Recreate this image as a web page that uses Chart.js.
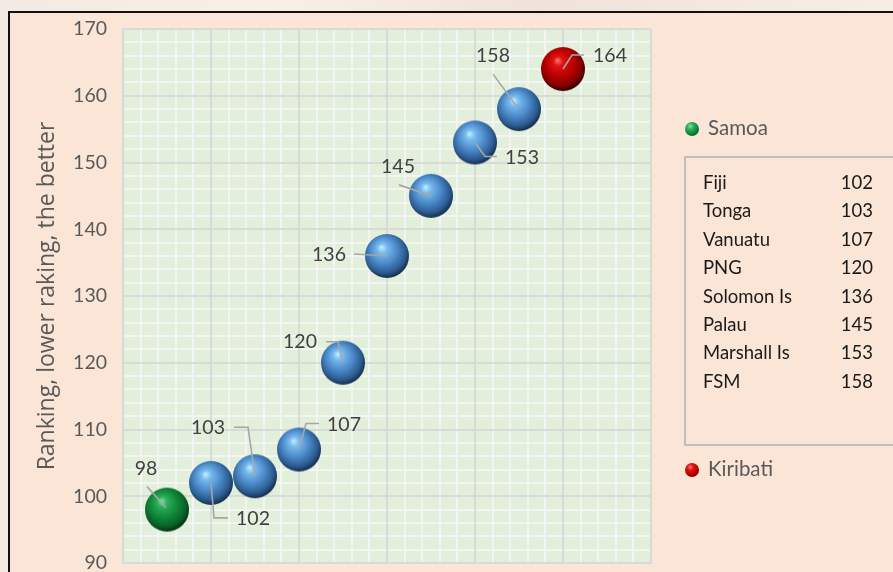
<!DOCTYPE html>
<html>
<head>
<meta charset="utf-8">
<script src="https://cdn.jsdelivr.net/npm/chart.js@4.4.1/dist/chart.umd.min.js"></script>
<style>
	html, body {
		margin: 0;
		width: 893px;
		height: 572px;
		overflow: hidden;
		background: linear-gradient(90deg, #f3ebe3, #f8f0e6 30%, #efe3dc 60%, #f6eee5);
		font-family: Lato, "Noto Sans", sans-serif;
	}
	#frame {
		position: absolute;
		left: 8px;
		top: 11px;
		width: 900px;
		height: 600px;
		border-top: 2px solid #111;
		border-left: 2px solid #111;
		background: #fbe5d7;
	}
	#chartBox {
		position: absolute;
		left: 0;
		top: 0;
		width: 893px;
		height: 620px;
	}
	.legend-item {
		position: absolute;
		left: 685px;
		font-size: 20.5px;
		color: #595959;
		line-height: 24px;
		height: 24px;
	}
	.legend-item .ball {
		display: inline-block;
		width: 14px;
		height: 14px;
		border-radius: 50%;
		vertical-align: -1px;
		margin-right: 9px;
	}
	#table {
		position: absolute;
		left: 684px;
		top: 156px;
		width: 230px;
		height: 286px;
		border: 2px solid #bfbfbf;
	}
	.row {
		position: absolute;
		left: 17px;
		width: 170px;
		font-size: 18.5px;
		color: #1a1a1a;
		line-height: 22px;
	}
	.row span:last-child {
		position: absolute;
		right: 0;
	}
</style>
</head>
<body>
<div id="frame"></div>
<div id="chartBox"><canvas id="rankChart"></canvas></div>
<div id="legend"></div>

<script>
// countries in ranking order and their ranking
const countries = ["Samoa", "Fiji", "Tonga", "Vanuatu", "PNG", "Solomon Is", "Palau", "Marshall Is", "FSM", "Kiribati"];
const rankings = [98, 102, 103, 107, 120, 136, 145, 153, 158, 164];
const yTicks = [90, 100, 110, 120, 130, 140, 150, 160, 170];

// label placement (pixel offsets from the bubble centre) and leader lines
const labelOffsets = [[-21, -41], [42, 36], [-47, -49], [45, -25], [-43, -21], [-58, -1], [-33, -29], [47, 15], [-26, -53], [47, -13]];
const leaders = [
	[[-20, -23], [-1, -2]],
	[[0, 0], [3, 35], [17, 35]],
	[[0, 0], [-7, -49], [-21, -49]],
	[[0, 0], [7, -26], [20, -26]],
	[[-17, -21], [-5, -21], [0, 0]],
	[[-33, -2], [0, 0]],
	[[-32, -11], [0, 0]],
	[[0, 0], [10, 14], [22, 14]],
	[[-26, -35], [-1, -1]],
	[[0, 0], [9, -14], [21, -14]],
];

const blueShades = ["#c2f0ff", "#78baee", "#4b89c9", "#2c5b8f", "#183253"];
const greenShades = ["#86e6a6", "#2cb05c", "#10893b", "#0a6229", "#053716"];
const redShades = ["#ff7575", "#e01212", "#bb0000", "#820000", "#3a0000"];

function makeBall(r, shades) {
	const c = document.createElement("canvas");
	c.width = c.height = r * 2 + 2;
	const g = c.getContext("2d");
	const cx = r + 1, cy = r + 1;
	const grad = g.createRadialGradient(cx - r * 0.25, cy - r * 0.4, 0, cx - r * 0.08, cy - r * 0.15, r * 1.12);
	grad.addColorStop(0, shades[0]);
	grad.addColorStop(0.2, shades[1]);
	grad.addColorStop(0.55, shades[2]);
	grad.addColorStop(0.85, shades[3]);
	grad.addColorStop(1, shades[4]);
	g.fillStyle = grad;
	g.beginPath();
	g.arc(cx, cy, r, 0, Math.PI * 2);
	g.fill();
	return c;
}

const isMajorX = (v) => Math.abs(v / 2 - Math.round(v / 2)) < 1e-6;
const isMajorY = (v) => Math.abs(v / 10 - Math.round(v / 10)) < 1e-6;

const points = rankings.map((rank, i) => ({ x: i + 1, y: rank }));
const last = countries.length - 1;

// plot fill and the light minor grid, drawn under the library's major grid
const plotBackground = {
	id: "plotBackground",
	beforeDraw(chart) {
		const { ctx, chartArea: a, scales } = chart;
		ctx.save();
		ctx.fillStyle = "#e2efda";
		ctx.fillRect(a.left, a.top, a.right - a.left, a.bottom - a.top);
		ctx.strokeStyle = "#f4f4f4";
		ctx.lineWidth = 2;
		ctx.beginPath();
		scales.x.ticks.forEach((t) => {
			if (isMajorX(t.value)) return;
			const x = Math.round(scales.x.getPixelForValue(t.value));
			ctx.moveTo(x, a.top);
			ctx.lineTo(x, a.bottom);
		});
		scales.y.ticks.forEach((t) => {
			if (isMajorY(t.value)) return;
			const y = Math.round(scales.y.getPixelForValue(t.value));
			ctx.moveTo(a.left, y);
			ctx.lineTo(a.right, y);
		});
		ctx.stroke();
		ctx.restore();
	},
};

const pointLabels = {
	id: "pointLabels",
	afterDatasetsDraw(chart) {
		const { ctx, scales } = chart;
		ctx.save();
		ctx.strokeStyle = "#a6a6a6";
		ctx.lineWidth = 1.6;
		ctx.fillStyle = "#404040";
		ctx.font = "19.5px Lato";
		ctx.textAlign = "center";
		ctx.textBaseline = "middle";
		points.forEach((p, i) => {
			const px = scales.x.getPixelForValue(p.x);
			const py = scales.y.getPixelForValue(p.y);
			ctx.beginPath();
			leaders[i].forEach(([dx, dy], k) => {
				if (k === 0) ctx.moveTo(px + dx, py + dy);
				else ctx.lineTo(px + dx, py + dy);
			});
			ctx.stroke();
			ctx.fillText(String(rankings[i]), px + labelOffsets[i][0], py + labelOffsets[i][1]);
		});
		ctx.restore();
	},
};

const ctx = document.getElementById("rankChart").getContext("2d");
const rankChart = new Chart(ctx, {
	type: "scatter",
	data: {
		datasets: [
			{
				label: countries[0],
				data: points.slice(0, 1),
				pointStyle: makeBall(22, greenShades),
			},
			{
				label: "Others",
				data: points.slice(1, last),
				pointStyle: makeBall(22, blueShades),
			},
			{
				label: countries[last],
				data: points.slice(last),
				pointStyle: makeBall(22, redShades),
			},
		],
	},
	options: {
		responsive: true,
		maintainAspectRatio: false,
		animation: false,
		layout: { padding: { left: 0, top: 29, right: 242, bottom: 57 } },
		elements: { point: { radius: 22, hoverRadius: 22 } },
		plugins: {
			legend: { display: false },
			tooltip: { enabled: false },
		},
		scales: {
			x: {
				min: 0,
				max: 12,
				ticks: { stepSize: 0.4, display: false, autoSkip: false },
				grid: {
					drawTicks: false,
					lineWidth: 2,
					color: (c) => (isMajorX(c.tick.value) ? "#d9d9d9" : "rgba(0,0,0,0)"),
				},
				border: { display: true, color: "#d9d9d9", width: 2 },
			},
			y: {
				min: 90,
				max: 170,
				afterFit(scale) {
					scale.width = 123;
				},
				ticks: {
					stepSize: 2,
					autoSkip: false,
					padding: 16,
					color: "#595959",
					font: { family: "Lato", size: 19.5 },
					callback: (v) => (yTicks.includes(v) ? v : ""),
				},
				grid: {
					drawTicks: false,
					lineWidth: 2,
					color: (c) => (isMajorY(c.tick.value) ? "#d9d9d9" : "rgba(0,0,0,0)"),
				},
				border: { display: true, color: "#d9d9d9", width: 2 },
				title: {
					display: true,
					text: "Ranking, lower raking, the better",
					color: "#595959",
					font: { family: "Open Sans", size: 23 },
					padding: { top: 34 },
				},
			},
		},
	},
	plugins: [plotBackground, pointLabels],
});

// legend and the side table
const legend = document.getElementById("legend");
function ballCss(shades) {
	return "background: radial-gradient(circle at 38% 30%, " + shades[0] + " 0%, " + shades[1] + " 25%, " + shades[2] + " 55%, " + shades[4] + " 100%);";
}
function addLegendItem(name, shades, top) {
	const item = document.createElement("div");
	item.className = "legend-item";
	item.style.top = top + "px";
	item.innerHTML = '<span class="ball" style="' + ballCss(shades) + '"></span>' + name;
	legend.appendChild(item);
}
addLegendItem(countries[0], greenShades, 115);
addLegendItem(countries[last], redShades, 456);

const table = document.createElement("div");
table.id = "table";
countries.slice(1, last).forEach((name, i) => {
	const row = document.createElement("div");
	row.className = "row";
	row.style.top = 13 + i * 28.4 + "px";
	row.innerHTML = "<span>" + name + "</span><span>" + rankings[i + 1] + "</span>";
	table.appendChild(row);
});
legend.appendChild(table);
</script>
</body>
</html>
